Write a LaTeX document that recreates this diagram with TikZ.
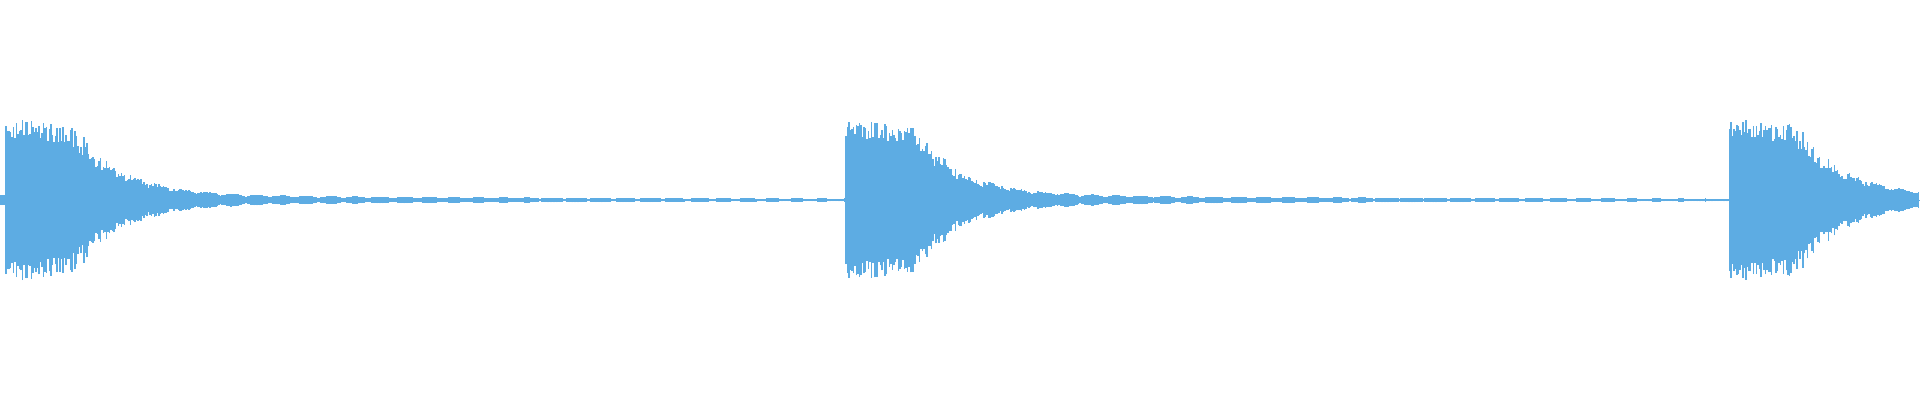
\documentclass[tikz,border=0pt]{standalone}
\definecolor{wave}{HTML}{5DACE3}
\begin{document}
\begin{tikzpicture}[wv/.style={draw=wave,line width=1.3pt}]
\useasboundingbox (0,0) rectangle (1920pt,400pt);
\pgfmathsetseed{7}
\draw[wave,line width=0.6pt] (0,200pt) -- (1920pt,200pt);
\foreach \i in {0,...,1279}{
  \pgfmathsetmacro\x{\i*1.5}
  \pgfmathsetmacro\t{\x<845 ? \x-6 : (\x<1729 ? \x-845 : \x-1729)}
  \pgfmathsetmacro\u{max(min(\t-65,300),-10)}
  \pgfmathsetmacro\s{abs(sin(mod(\i*11,360)))}
  \pgfmathsetmacro\a{\t<0 ? 5 : (\t<65 ? (82-0.1*\t)*(0.75+0.25*rnd) : 76*exp(-\u/45)*(0.65+0.35*rnd) + 7*exp(-\t/400)*(0.4+0.6*\s) + 0.6)}
  \draw[wv] (\x pt,200pt-\a pt) -- (\x pt,200pt+\a pt);
}
\end{tikzpicture}
\end{document}
